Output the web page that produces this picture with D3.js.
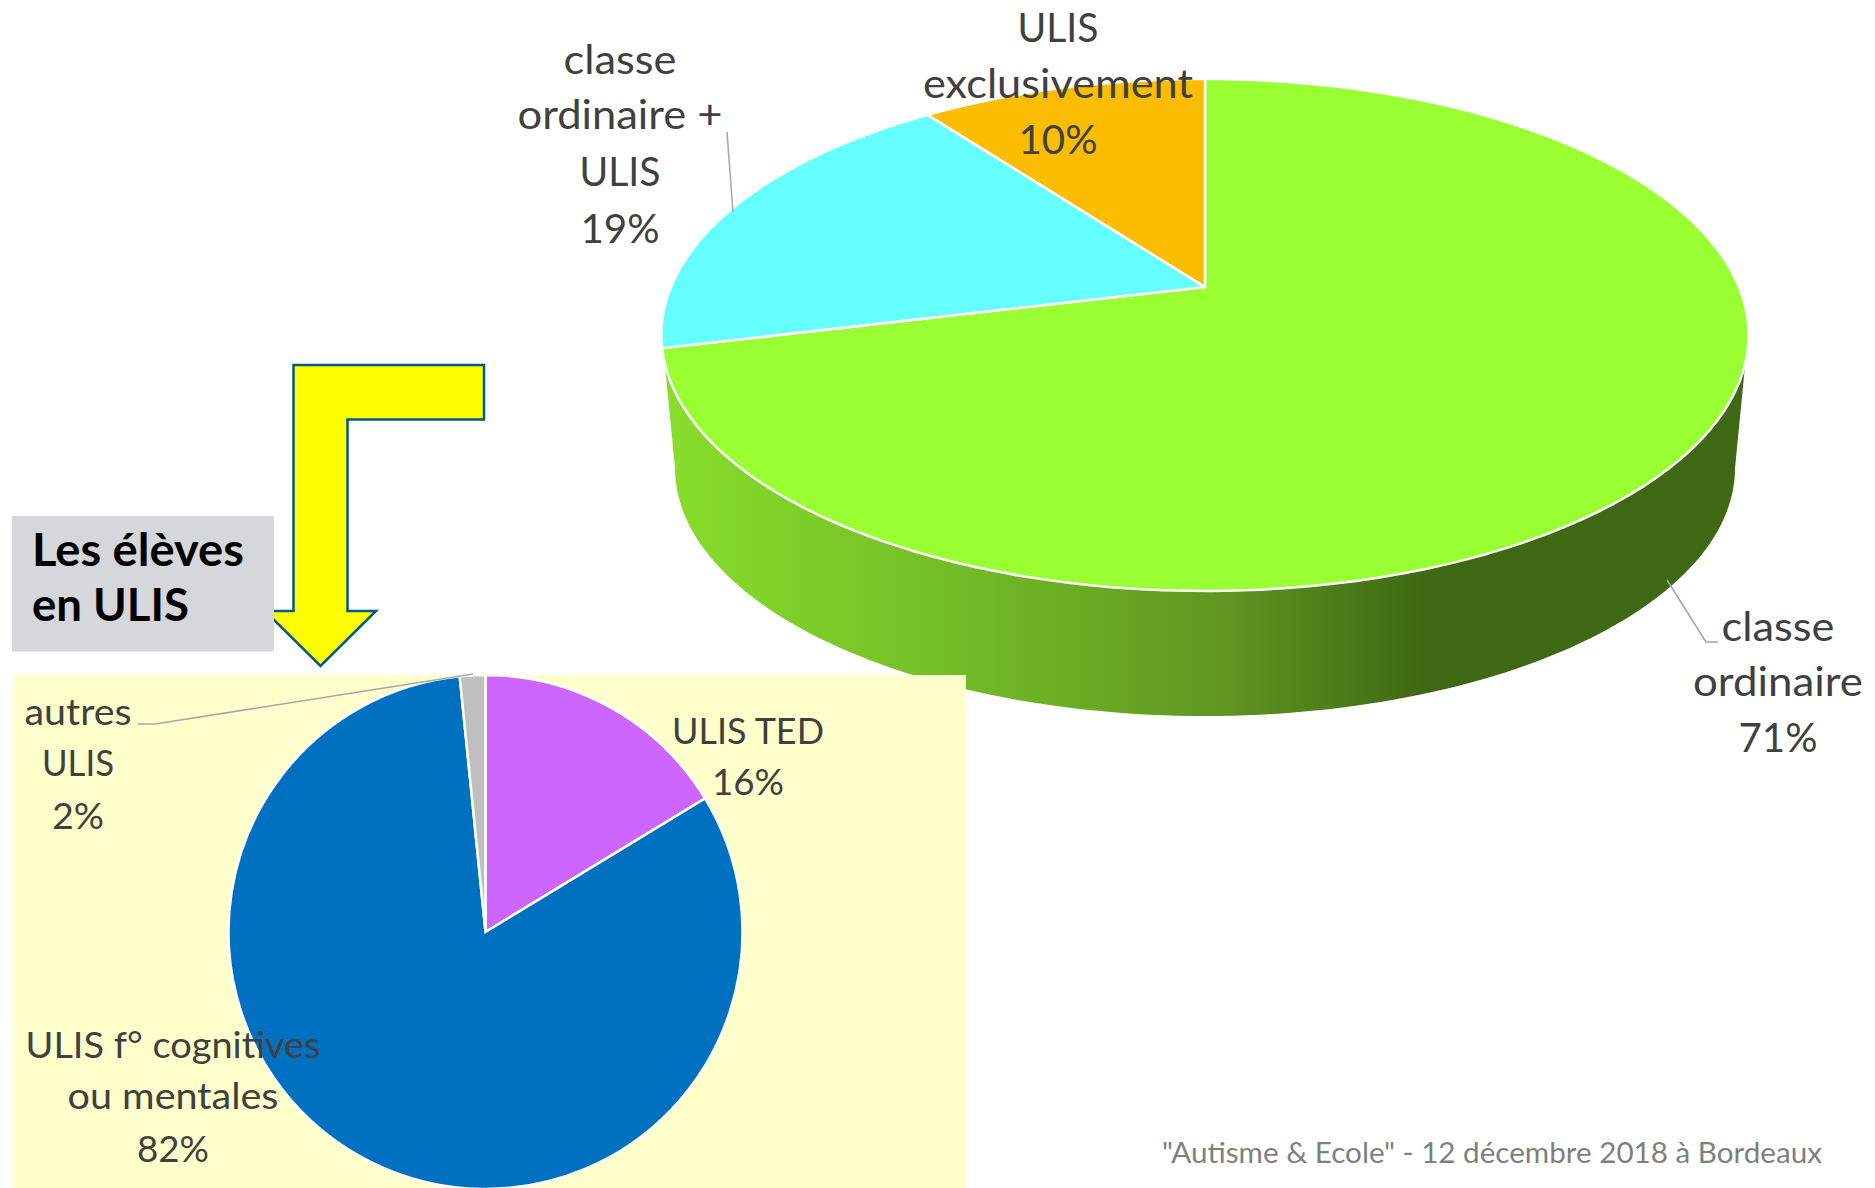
<!DOCTYPE html>
<html lang="fr">
<head>
<meta charset="utf-8">
<script src="https://cdn.jsdelivr.net/npm/d3@7"></script>
<style>
html,body{margin:0;padding:0;background:#fff;overflow:hidden}
svg{display:block}
text{font-family:Lato,"Open Sans",sans-serif}
</style>
</head>
<body>
<svg id="chart" width="1875" height="1188"></svg>
<script>
const mainCategories = ["classe ordinaire", "classe ordinaire + ULIS", "ULIS exclusivement"];
const mainValues = [71.2, 18.6, 10.2];
const mainColors = ["#99ff33", "#66ffff", "#fcbd00"];
const ulisCategories = ["ULIS TED", "ULIS f° cognitives ou mentales", "autres ULIS"];
const ulisValues = [16.3, 82.1, 1.6];
const ulisColors = ["#cc66ff", "#0070c0", "#bfbfbf"];
const titleLines = ["Les élèves", "en ULIS"];
const footerText = "\"Autisme & Ecole\" - 12 décembre 2018 à Bordeaux";
const mainLabelLines = [
  {lines:["classe","ordinaire","71%"], x:1778, y:[641,696,752], w:[113,170,79]},
  {lines:["classe","ordinaire +","ULIS","19%"], x:620, y:[74,129,186,243], w:[113,205,81,79]},
  {lines:["ULIS","exclusivement","10%"], x:1058, y:[42,98,154], w:[81,270,79]}
];
const ulisLabelLines = [
  {lines:["ULIS TED","16%"], x:748, y:[744,795], w:[152,72]},
  {lines:["ULIS f° cognitives","ou mentales","82%"], x:173, y:[1058,1109,1162], w:[295,211,72]},
  {lines:["autres","ULIS","2%"], x:78, y:[725,776,829], w:[107,72,52]}
];

const svg = d3.select("#chart");
const pieGen = d3.pie().sort(null).value(d => d);
const defs = svg.append("defs");
const grad = defs.append("linearGradient").attr("id","sideGrad")
  .attr("gradientUnits","userSpaceOnUse").attr("x1",670).attr("x2",1735).attr("y1",0).attr("y2",0);
[[0,"#88dd2c"],[0.3,"#70b826"],[0.52,"#5f9620"],[0.71,"#3e6813"],[1,"#3e6813"]]
  .forEach(([o,c]) => grad.append("stop").attr("offset",o).attr("stop-color",c));

/* perspective projection of the tilted disc */
const apex = {x:1205, y:287}, K = 0.1875, A = 247, B = 534;
const project = t => {
  const u = Math.sin(t), v = Math.cos(t), w = 1 + K * v;
  return [apex.x + B * u / w, apex.y - A * v / w];
};
const line = d3.line();
const sample = (a,b) => d3.range(0, 121).map(i => project(a + (b - a) * i / 120));

/* side wall */
const bottom = {x:1205, y:468, rx:530, ry:248};
const frontBottom = d3.range(0,121).map(i => {
  const t = Math.PI * i / 120;
  return [bottom.x + bottom.rx * Math.cos(t), bottom.y + bottom.ry * Math.sin(t)];
});
const wallTop = d3.range(0,121).map(i => {
  const t = Math.PI * i / 120;
  return [apex.x + 543 * Math.cos(t), 335.5 + 255.5 * Math.sin(t)];
}).reverse();
svg.append("path").attr("d", line(frontBottom.concat(wallTop)) + "Z").attr("fill","url(#sideGrad)");

/* top faces */
svg.append("g").selectAll("path").data(pieGen(mainValues)).join("path")
  .attr("d", d => line([[apex.x,apex.y], ...sample(d.startAngle,d.endAngle)]) + "Z")
  .attr("fill", (d,i) => mainColors[i])
  .attr("stroke","#fff").attr("stroke-width",2.5).attr("stroke-linejoin","round");

/* arrow */
svg.append("path")
  .attr("d", line([[293.5,365],[484,365],[484,419.5],[347.5,419.5],[347.5,611],[376,611],[320.5,666],[265,611],[293.5,611]]) + "Z")
  .attr("fill","#ffff00").attr("stroke","#005a8c").attr("stroke-width",2.5);

/* title box */
svg.append("rect").attr("x",12).attr("y",516).attr("width",262).attr("height",135.5).attr("fill","#d6d7db");
svg.append("g").selectAll("text").data(titleLines).join("text")
  .attr("x",32).attr("y",(d,i)=>566+i*54.5)
  .attr("font-size",45).attr("font-weight",700).attr("fill","#000")
  .attr("textLength",(d,i)=>[212,157][i]).attr("lengthAdjust","spacingAndGlyphs").text(d=>d);

/* inset panel and pie */
svg.append("rect").attr("x",14).attr("y",675).attr("width",952).attr("height",513).attr("fill","#ffffcc");
const arcGen = d3.arc().innerRadius(0).outerRadius(257);
svg.append("g").attr("transform","translate(485.5,932)")
  .selectAll("path").data(pieGen(ulisValues)).join("path")
  .attr("d", arcGen).attr("fill",(d,i)=>ulisColors[i])
  .attr("stroke","#fff").attr("stroke-width",2.5);

/* leader lines */
const leaders = [
  [[727,132],[733,212]],
  [[1667,580],[1706,642],[1718,642]],
  [[138,724],[155,724],[473,674]]
];
svg.append("g").selectAll("path").data(leaders).join("path")
  .attr("d", line).attr("fill","none").attr("stroke","#a6a6a6").attr("stroke-width",1.5);

/* labels */
function drawLabels(list, size){
  const g = svg.append("g").attr("fill","#404040").attr("font-size",size).attr("text-anchor","middle");
  list.forEach(l => l.lines.forEach((t,i) => {
    g.append("text").attr("x",l.x).attr("y",l.y[i])
      .attr("textLength",l.w[i]).attr("lengthAdjust","spacingAndGlyphs").text(t);
  }));
}
drawLabels(mainLabelLines, 41);
drawLabels(ulisLabelLines, 37);

svg.append("text").attr("x",1162).attr("y",1163).attr("font-size",29).attr("fill","#7f7f7f")
  .attr("textLength",660).attr("lengthAdjust","spacingAndGlyphs").text(footerText);
</script>
</body>
</html>
